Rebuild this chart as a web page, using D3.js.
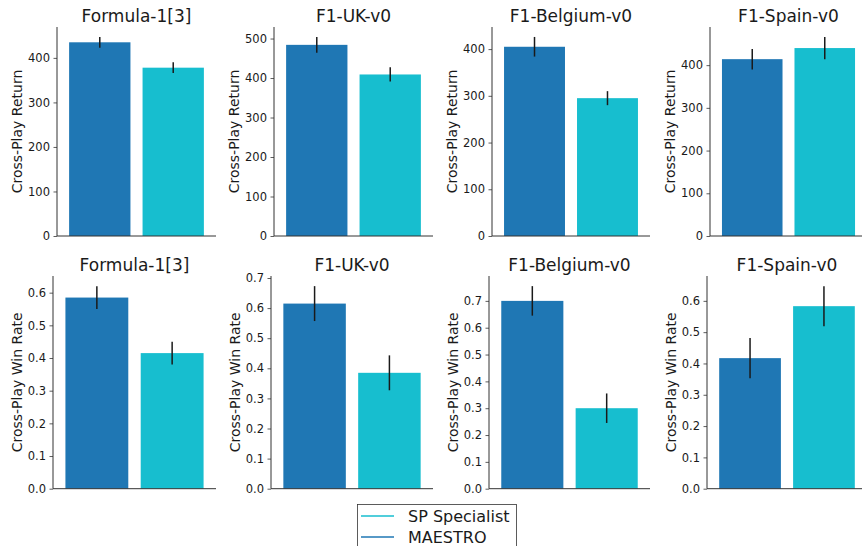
<!DOCTYPE html>
<html>
<head>
<meta charset="utf-8">
<script src="https://cdn.jsdelivr.net/npm/d3@7"></script>
<style>
    body { margin: 0; background: #fff; }
    svg { display: block; font-family: "DejaVu Sans", sans-serif; }
    .tick text { font-family: "DejaVu Sans", sans-serif; font-size: 11.5px; fill: #1a1a1a; }
    .title { font-size: 17px; fill: #1a1a1a; }
    .axisLabel { font-size: 14px; fill: #1a1a1a; }
    .legendText { font-size: 16px; fill: #1a1a1a; }
</style>
</head>
<body>
<svg id="chart" width="862" height="546"></svg>
<script>
//////////////////// DATA ////////////////////
const envs = ["Formula-1[3]", "F1-UK-v0", "F1-Belgium-v0", "F1-Spain-v0"];
const methods = ["MAESTRO", "SP Specialist"];

// cross-play return (mean, error)
const returnMaestro = [435, 484, 405, 414];
const returnMaestroErr = [12, 20, 21, 24];
const returnSpecialist = [378, 409, 295, 440];
const returnSpecialistErr = [12, 18, 15, 26];

// cross-play win rate (mean, error)
const winMaestro = [0.585, 0.615, 0.70, 0.417];
const winMaestroErr = [0.035, 0.058, 0.055, 0.064];
const winSpecialist = [0.415, 0.385, 0.30, 0.583];
const winSpecialistErr = [0.035, 0.058, 0.055, 0.064];

// tick labels per panel
const returnTicks = [
    [0, 100, 200, 300, 400],
    [0, 100, 200, 300, 400, 500],
    [0, 100, 200, 300, 400],
    [0, 100, 200, 300, 400]
];
const winTicks = [
    [0, 0.1, 0.2, 0.3, 0.4, 0.5, 0.6],
    [0, 0.1, 0.2, 0.3, 0.4, 0.5, 0.6, 0.7],
    [0, 0.1, 0.2, 0.3, 0.4, 0.5, 0.6, 0.7],
    [0, 0.1, 0.2, 0.3, 0.4, 0.5, 0.6]
];

const colors = { "MAESTRO": "#1f77b4", "SP Specialist": "#17becf" };

//////////////////// LAYOUT ////////////////////
const svg = d3.select("#chart");

const rows = [
    {
        label: "Cross-Play Return",
        top: 27, bottom: 236, titleY: 22, labelOffset: 40,
        lefts: [57, 274, 492, 710],
        values: [returnMaestro, returnSpecialist],
        errors: [returnMaestroErr, returnSpecialistErr],
        ticks: returnTicks,
        format: d3.format("d")
    },
    {
        label: "Cross-Play Win Rate",
        top: 276, bottom: 488.7, titleY: 271, labelOffset: 36,
        lefts: [53, 271, 489, 707],
        values: [winMaestro, winSpecialist],
        errors: [winMaestroErr, winSpecialistErr],
        ticks: winTicks,
        format: d3.format(".1f")
    }
];
const rights = [216, 433, 650, 867];

//////////////////// DRAW PANELS ////////////////////
rows.forEach(row => {
    envs.forEach((env, i) => {
        const left = row.lefts[i];
        const right = rights[i];

        const panelData = methods.map((m, k) => ({
            method: m,
            value: row.values[k][i],
            err: row.errors[k][i]
        }));

        // scales
        const yMax = d3.max(panelData, d => d.value + d.err) * 1.05;
        const y = d3.scaleLinear().domain([0, yMax]).range([row.bottom, row.top]);
        const x = d3.scaleBand()
            .domain(methods)
            .range([left, right])
            .paddingInner(0.165)
            .paddingOuter(0.165);

        const g = svg.append("g");

        // bars
        g.selectAll(".bar")
            .data(panelData)
            .enter()
            .append("rect")
            .attr("class", "bar")
            .attr("x", d => x(d.method))
            .attr("width", x.bandwidth())
            .attr("y", d => y(d.value))
            .attr("height", d => y(0) - y(d.value))
            .attr("fill", d => colors[d.method]);

        // error bars
        g.selectAll(".err")
            .data(panelData)
            .enter()
            .append("line")
            .attr("class", "err")
            .attr("x1", d => x(d.method) + x.bandwidth() / 2)
            .attr("x2", d => x(d.method) + x.bandwidth() / 2)
            .attr("y1", d => y(d.value - d.err))
            .attr("y2", d => y(d.value + d.err))
            .attr("stroke", "#1a1a1a")
            .attr("stroke-width", 1.5);

        // y-axis
        const yAxis = d3.axisLeft(y)
            .tickValues(row.ticks[i])
            .tickFormat(row.format)
            .tickSize(3.5)
            .tickPadding(3.5);
        const yGroup = g.append("g")
            .attr("transform", `translate(${left}, 0)`)
            .call(yAxis);
        yGroup.select(".domain").remove();
        yGroup.selectAll(".tick line").attr("stroke", "#333").attr("stroke-width", 0.8);

        // spines
        g.append("line")
            .attr("x1", left).attr("x2", left)
            .attr("y1", row.top).attr("y2", row.bottom)
            .attr("stroke", "#333").attr("stroke-width", 1);
        g.append("line")
            .attr("x1", left).attr("x2", right)
            .attr("y1", row.bottom).attr("y2", row.bottom)
            .attr("stroke", "#333").attr("stroke-width", 1);

        // title
        g.append("text")
            .attr("class", "title")
            .attr("x", (left + right) / 2)
            .attr("y", row.titleY)
            .attr("text-anchor", "middle")
            .text(env);

        // y label
        const lx = left - row.labelOffset;
        const ly = (row.top + row.bottom) / 2;
        g.append("text")
            .attr("class", "axisLabel")
            .attr("transform", `translate(${lx}, ${ly}) rotate(-90)`)
            .attr("text-anchor", "middle")
            .attr("dy", "0.35em")
            .text(row.label);
    });
});

//////////////////// LEGEND ////////////////////
const legendItems = ["SP Specialist", "MAESTRO"];
const legend = svg.append("g");

legend.append("rect")
    .attr("x", 357.5).attr("y", 504.5)
    .attr("width", 159).attr("height", 50)
    .attr("fill", "#fff")
    .attr("stroke", "#333")
    .attr("stroke-width", 0.8);

const legendY = d3.scalePoint().domain(legendItems).range([516, 537]);

legend.selectAll(".legendLine")
    .data(legendItems)
    .enter()
    .append("line")
    .attr("x1", 361).attr("x2", 394)
    .attr("y1", d => legendY(d)).attr("y2", d => legendY(d))
    .attr("stroke", d => colors[d])
    .attr("stroke-width", 1.5);

legend.selectAll(".legendText")
    .data(legendItems)
    .enter()
    .append("text")
    .attr("class", "legendText")
    .attr("x", 408)
    .attr("y", d => legendY(d))
    .attr("dy", "0.35em")
    .text(d => d);
</script>
</body>
</html>
